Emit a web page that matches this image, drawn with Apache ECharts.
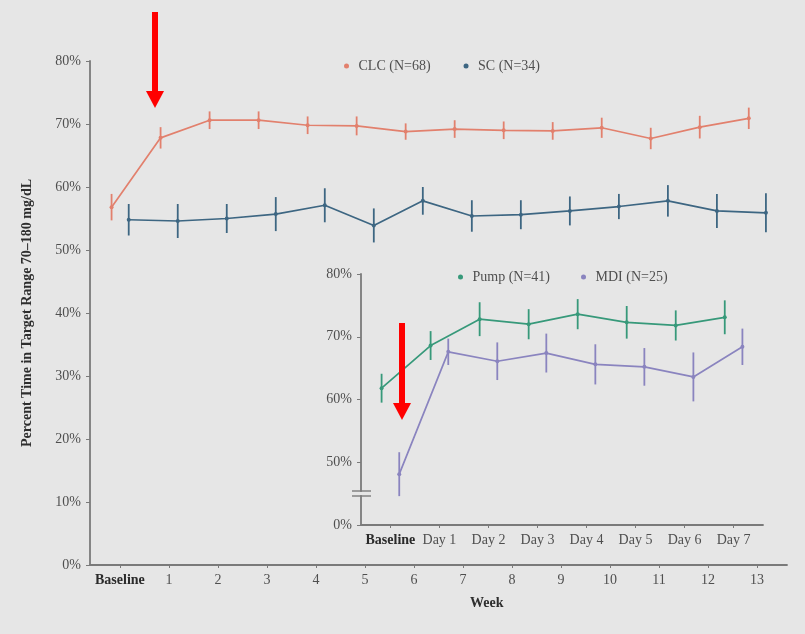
<!DOCTYPE html>
<html><head><meta charset="utf-8">
<script src="https://cdn.jsdelivr.net/npm/echarts@6/dist/echarts.min.js"></script>
<style>html,body{margin:0;padding:0;background:#e6e6e6}#c{width:805px;height:634px}</style>
</head><body><div id="c"></div>
<script>
// Main chart (weeks)
const weekLabels = ['Baseline','1','2','3','4','5','6','7','8','9','10','11','12','13'];
const weekTicks = [0,1,2,3,4,5,6,7,8,9,10,11,12,13];
const clcMean = [56.8,67.8,70.6,70.6,69.8,69.7,68.8,69.2,69.0,68.9,69.4,67.7,69.5,70.9];
const clcErr  = [2.1,1.7,1.4,1.4,1.4,1.5,1.3,1.4,1.4,1.4,1.6,1.7,1.8,1.7];
const scMean  = [54.8,54.6,55.0,55.7,57.1,53.9,57.8,55.4,55.6,56.2,56.9,57.8,56.2,55.9];
const scErr   = [2.5,2.7,2.3,2.7,2.7,2.7,2.2,2.5,2.3,2.3,2.0,2.5,2.7,3.1];
const mainYTicks = [0,10,20,30,40,50,60,70,80];
// Inset chart (days)
const dayLabels = ['Baseline','Day 1','Day 2','Day 3','Day 4','Day 5','Day 6','Day 7'];
const dayTicks = [0,1,2,3,4,5,6,7];
const pumpMean = [61.8,68.6,72.8,72.0,73.6,72.3,71.8,73.1];
const pumpErr  = [2.3,2.3,2.7,2.4,2.4,2.6,2.4,2.7];
const mdiMean  = [48.1,67.6,66.1,67.4,65.6,65.2,63.6,68.4];
const mdiErr   = [3.5,2.1,3.0,3.1,3.2,3.0,3.9,2.9];
// inset y axis is broken: the bottom tick (value 40 on the drawn scale) stands for 0%
const insetYTicks = [40,50,60,70,80];
const insetYLabels = ['0%','50%','60%','70%','80%'];

const COL = {clc:'#e2806d', sc:'#3d6682', pump:'#37997a', mdi:'#8a84bf'};
const BG = '#e6e6e6';
const FONT = '"Liberation Serif", "DejaVu Serif", serif';
const AX = '#7a7a7a';
const LBL = '#4f4f4f';

function pts(mean, off){ return mean.map((v,i)=>[i+off, v]); }
function errs(mean, err, off){ return mean.map((v,i)=>[i+off, v-err[i], v+err[i]]); }
function errRender(params, api){
  const x = api.value(0), lo = api.value(1), hi = api.value(2);
  const a = api.coord([x, hi]), b = api.coord([x, lo]);
  return {type:'line', shape:{x1:a[0],y1:a[1],x2:b[0],y2:b[1]},
          style:{stroke: api.visual('color'), lineWidth:1.8}};
}
function lineSeries(name, data, color, gi){
  return {type:'line', name, data, xAxisIndex:gi, yAxisIndex:gi, symbol:'circle', symbolSize:4,
    itemStyle:{color}, lineStyle:{color, width:1.7}, animation:false, z:3};
}
function errSeries(name, data, color, gi){
  return {type:'custom', name, data, xAxisIndex:gi, yAxisIndex:gi, renderItem:errRender,
    encode:{x:0, y:[1,2]}, itemStyle:{color}, animation:false, z:2};
}
const labelRich = {b:{fontFamily:FONT, fontWeight:'bold', fontSize:14, color:'#2a2a2a'}};

const chart = echarts.init(document.getElementById('c'), null, {renderer:'canvas'});
chart.setOption({
  backgroundColor: BG,
  animation:false,
  title:{text:'Week', left:470, top:596, padding:0,
    textStyle:{fontFamily:FONT, fontWeight:'bold', fontSize:14, color:'#2e2e2e'}},
  legend:[
    {data:['CLC (N=68)','SC (N=34)'], left:339, top:54, icon:'circle', itemWidth:14, itemHeight:5,
     itemGap:33, textStyle:{fontFamily:FONT, fontSize:14, color:LBL}},
    {data:['Pump (N=41)','MDI (N=25)'], left:453, top:265, icon:'circle', itemWidth:14, itemHeight:5,
     itemGap:31, textStyle:{fontFamily:FONT, fontSize:14, color:LBL}}
  ],
  grid:[
    {left:90, right:18, top:61, bottom:69},
    {left:361, right:42, top:274, bottom:109}
  ],
  xAxis:[
    {type:'value', gridIndex:0, min:-0.61, max:13.61, splitLine:{show:false},
     axisLine:{onZero:false, lineStyle:{color:AX, width:1.8}},
     axisTick:{show:true, length:3, customValues:weekTicks, lineStyle:{color:AX}},
     axisLabel:{customValues:weekTicks, margin:8, fontFamily:FONT, fontSize:14, color:LBL,
       formatter:v=>{const s=weekLabels[Math.round(v)]; return Math.round(v)===0?'{b|'+s+'}':s;}, rich:labelRich}},
    {type:'value', gridIndex:1, min:-0.6, max:7.6, splitLine:{show:false},
     axisLine:{onZero:false, lineStyle:{color:AX, width:1.8}},
     axisTick:{show:true, length:3, customValues:dayTicks, lineStyle:{color:AX}},
     axisLabel:{customValues:dayTicks, margin:8, fontFamily:FONT, fontSize:14, color:LBL,
       formatter:v=>{const s=dayLabels[Math.round(v)]; return Math.round(v)===0?'{b|'+s+'}':s;}, rich:labelRich}}
  ],
  yAxis:[
    {type:'value', gridIndex:0, min:0, max:80, interval:10, splitLine:{show:false},
     name:'Percent Time in Target Range 70–180 mg/dL', nameLocation:'middle', nameGap:56,
     nameTextStyle:{fontFamily:FONT, fontWeight:'bold', fontSize:14, color:'#2e2e2e'},
     axisLine:{show:true, onZero:false, lineStyle:{color:AX, width:1.8}},
     axisTick:{show:true, length:4, lineStyle:{color:AX}},
     axisLabel:{margin:9, fontFamily:FONT, fontSize:14, color:LBL, formatter:'{value}%'}},
    {type:'value', gridIndex:1, min:40, max:80, interval:10, splitLine:{show:false},
     axisLine:{show:true, onZero:false, lineStyle:{color:AX, width:1.8}},
     axisTick:{show:true, length:4, lineStyle:{color:AX}},
     axisLabel:{margin:9, fontFamily:FONT, fontSize:14, color:LBL,
       formatter:v=>insetYLabels[insetYTicks.indexOf(v)]}}
  ],
  series:[
    errSeries('CLC err', errs(clcMean, clcErr, -0.17), COL.clc, 0),
    errSeries('SC err', errs(scMean, scErr, 0.18), COL.sc, 0),
    lineSeries('CLC (N=68)', pts(clcMean, -0.17), COL.clc, 0),
    lineSeries('SC (N=34)', pts(scMean, 0.18), COL.sc, 0),
    errSeries('Pump err', errs(pumpMean, pumpErr, -0.18), COL.pump, 1),
    errSeries('MDI err', errs(mdiMean, mdiErr, 0.18), COL.mdi, 1),
    lineSeries('Pump (N=41)', pts(pumpMean, -0.18), COL.pump, 1),
    lineSeries('MDI (N=25)', pts(mdiMean, 0.18), COL.mdi, 1)
  ],
  graphic:[
    // axis break mark on inset y axis
    {type:'rect', shape:{x:355, y:491.8, width:12, height:3.4}, style:{fill:BG}, z:100},
    {type:'line', shape:{x1:352, y1:491, x2:371, y2:491}, style:{stroke:AX, lineWidth:1.4}, z:101},
    {type:'line', shape:{x1:352, y1:496, x2:371, y2:496}, style:{stroke:AX, lineWidth:1.4}, z:101},
    // red annotation arrows
    {type:'rect', shape:{x:152, y:12, width:6, height:80}, style:{fill:'#ff0000'}, z:110},
    {type:'polygon', shape:{points:[[146,91],[164,91],[155,108]]}, style:{fill:'#ff0000'}, z:110},
    {type:'rect', shape:{x:399, y:323, width:6, height:81}, style:{fill:'#ff0000'}, z:110},
    {type:'polygon', shape:{points:[[393,403],[411,403],[402,420]]}, style:{fill:'#ff0000'}, z:110}
  ]
});
</script></body></html>
